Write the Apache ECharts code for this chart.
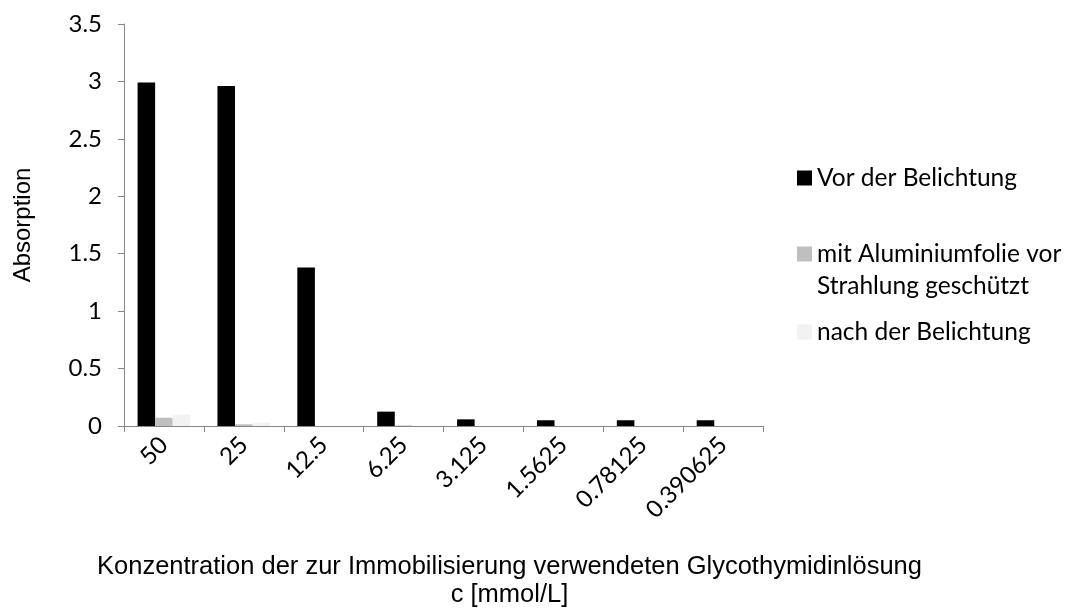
<!DOCTYPE html>
<html>
<head>
<meta charset="utf-8">
<script src="https://cdn.jsdelivr.net/npm/echarts@6/dist/echarts.min.js"></script>
<style>
  html, body { margin: 0; padding: 0; background: #ffffff; }
  #chart { width: 1065px; height: 610px; }
</style>
</head>
<body>
<div id="chart"></div>
<script>
// Konzentrationen der Glycothymidinlösung (mmol/L)
const categories = ['50', '25', '12.5', '6.25', '3.125', '1.5625', '0.78125', '0.390625'];

// Absorption je Konzentration
const vorBelichtung = [2.99, 2.96, 1.38, 0.125, 0.058, 0.05, 0.05, 0.05];
const aluGeschuetzt = [0.072, 0.015, 0, 0.005, 0, 0, 0, 0];
const nachBelichtung = [0.10, 0.03, 0, 0, 0, 0, 0, 0];

const yTicks = [0, 0.5, 1, 1.5, 2, 2.5, 3, 3.5];

const seriesNames = [
  'Vor der Belichtung',
  'mit Aluminiumfolie vor\nStrahlung geschützt',
  'nach der Belichtung'
];
const seriesColors = ['#000000', '#bfbfbf', '#f2f2f2'];

const axisGray = '#868686';
const labelFont = 'Lato, "Open Sans", sans-serif';
const titleFont = '"Liberation Sans", Arial, sans-serif';

const chart = echarts.init(document.getElementById('chart'), null, { renderer: 'canvas' });

const legendText = { color: '#000000', fontFamily: labelFont, fontSize: 24.5, lineHeight: 32 };

// square marker sitting at the top of a taller box, so it lines up with the first text line
const topSquare = 'path://M0,0H15V15H0Z M0,46.99H0.001V47H0Z';

const option = {
  backgroundColor: '#ffffff',
  animation: false,
  grid: {
    left: 124, top: 24, width: 639, height: 402,
    containLabel: false, outerBoundsMode: 'none'
  },
  legend: [
    {
      data: [seriesNames[0]], orient: 'vertical', left: 792, top: 157,
      itemWidth: 15, itemHeight: 15, itemGap: 0, textStyle: legendText, icon: 'rect'
    },
    {
      data: [seriesNames[1]], orient: 'vertical', left: 792, top: 233,
      itemWidth: 15, itemHeight: 47, itemGap: 0, textStyle: legendText, icon: topSquare
    },
    {
      data: [seriesNames[2]], orient: 'vertical', left: 792, top: 311,
      itemWidth: 15, itemHeight: 15, itemGap: 0, textStyle: legendText, icon: 'rect'
    }
  ],
  xAxis: {
    type: 'category',
    data: categories,
    name: 'Konzentration der zur Immobilisierung verwendeten Glycothymidinlösung\nc [mmol/L]',
    nameLocation: 'middle',
    nameGap: 127,
    nameTextStyle: {
      color: '#000000', fontFamily: titleFont, fontSize: 25.5, lineHeight: 28,
      padding: [0, 0, 0, 132]
    },
    axisLine: { lineStyle: { color: axisGray, width: 1 } },
    axisTick: { show: true, alignWithLabel: false, length: 6, lineStyle: { color: axisGray } },
    axisLabel: {
      rotate: 45, color: '#000000', fontFamily: labelFont, fontSize: 24,
      margin: 15, interval: 0
    },
    splitLine: { show: false }
  },
  yAxis: {
    type: 'value',
    min: yTicks[0],
    max: yTicks[yTicks.length - 1],
    interval: 0.5,
    name: 'Absorption',
    nameLocation: 'middle',
    nameGap: 89,
    nameRotate: 90,
    nameTextStyle: { color: '#000000', fontFamily: titleFont, fontSize: 24 },
    axisLine: { show: true, lineStyle: { color: axisGray, width: 1 } },
    axisTick: { show: true, length: 6, lineStyle: { color: axisGray } },
    axisLabel: { color: '#000000', fontFamily: labelFont, fontSize: 24, margin: 22 },
    splitLine: { show: false }
  },
  series: [vorBelichtung, aluGeschuetzt, nachBelichtung].map((values, i) => ({
    name: seriesNames[i],
    type: 'bar',
    data: values,
    barGap: '0%',
    barCategoryGap: '34%',
    itemStyle: { color: seriesColors[i] }
  }))
};

chart.setOption(option);
</script>
</body>
</html>
